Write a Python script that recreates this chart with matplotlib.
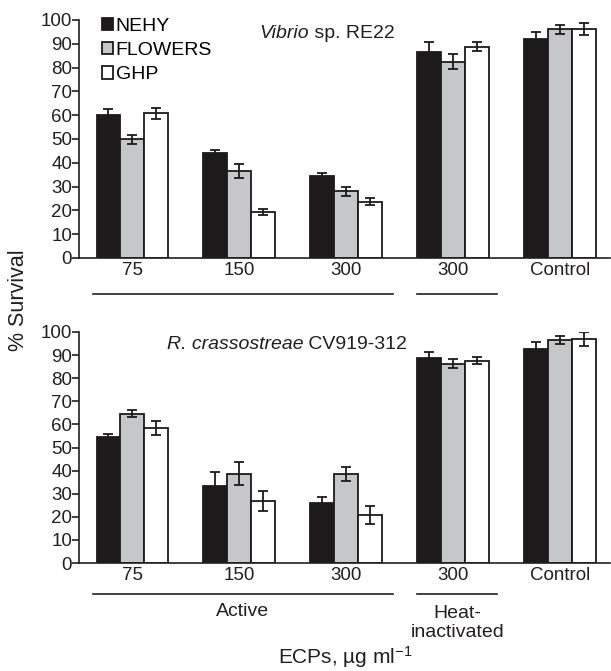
import numpy as np
import matplotlib.pyplot as plt
import matplotlib.transforms as mtransforms

plt.rcParams['font.family'] = ['Liberation Sans', 'DejaVu Sans']
plt.rcParams['mathtext.fontset'] = 'custom'
plt.rcParams['mathtext.rm'] = 'Liberation Sans'
plt.rcParams['mathtext.it'] = 'Liberation Sans:italic'

groups = ['75', '150', '300', '300', 'Control']
series = ['NEHY', 'FLOWERS', 'GHP']
colors = ['#1c1a1b', '#c6c7c9', '#ffffff']

# Vibrio sp. RE22
vib_mean = {'NEHY': [60, 44, 34.3, 86.7, 92.1],
            'FLOWERS': [49.8, 36.7, 28, 82.5, 96.1],
            'GHP': [60.8, 19.3, 23.7, 88.8, 96.4]}
vib_err = {'NEHY': [2.8, 1.2, 1.3, 4, 3],
           'FLOWERS': [1.9, 3, 2, 3.2, 1.8],
           'GHP': [2.3, 1.2, 1.5, 2, 2.5]}

# R. crassostreae CV919-312
rc_mean = {'NEHY': [54.7, 33.5, 25.8, 88.9, 92.8],
           'FLOWERS': [64.6, 38.7, 38.7, 86.3, 96.5],
           'GHP': [58.4, 26.8, 20.8, 87.6, 97]}
rc_err = {'NEHY': [1.3, 6, 2.8, 2.4, 3],
          'FLOWERS': [1.5, 5, 3, 2, 1.9],
          'GHP': [3, 4.5, 4, 1.6, 2.9]}

W, H = 611, 671
FS = 13.5
fig = plt.figure(figsize=(W / 100, H / 100), dpi=100)

def draw(ax, mean, err, title_it, title_rest, tx):
    x = np.arange(len(groups))
    bw = 0.224
    for i, s in enumerate(series):
        ax.bar(x + (i - 1) * bw, mean[s], bw, color=colors[i], edgecolor='#1c1a1b',
               linewidth=1.3, label=s, zorder=2)
        ax.errorbar(x + (i - 1) * bw, mean[s], yerr=err[s], fmt='none', ecolor='#1c1a1b',
                    elinewidth=1.3, capsize=3.5, capthick=1.3, zorder=3)
    ax.set_xlim(-0.5, 4.47)
    ax.set_ylim(0, 100)
    ax.set_yticks(np.arange(0, 101, 10))
    ax.set_xticks(x)
    ax.set_xticklabels(groups)
    ax.tick_params(axis='x', length=0, pad=3, labelsize=FS, colors='#231f20')
    ax.tick_params(axis='y', length=5, width=1.2, direction='out', labelsize=FS, pad=0,
                   colors='#231f20')
    for sp in ['top', 'right']:
        ax.spines[sp].set_visible(False)
    for sp in ['left', 'bottom']:
        ax.spines[sp].set_linewidth(1.2)
        ax.spines[sp].set_color('#231f20')
    t = ax.text(tx, 92.5, title_it, fontsize=14, fontstyle='italic', ha='left',
                va='baseline', color='#231f20')
    ax.annotate(title_rest, xy=(1, 0), xycoords=t, ha='left', va='bottom', fontsize=14,
                color='#231f20')

ax1 = fig.add_axes([79 / W, 1 - 258 / H, 531 / W, 238 / H])
draw(ax1, vib_mean, vib_err, 'Vibrio', ' sp. RE22', 1.19)
ax1.legend(loc='upper left', bbox_to_anchor=(0.043, 1.01), frameon=False, fontsize=14,
           handlelength=0.6, handleheight=0.6, handletextpad=0.12, labelspacing=0.38,
           borderaxespad=0, borderpad=0)

ax2 = fig.add_axes([79 / W, 1 - 563 / H, 531 / W, 231 / H])
draw(ax2, rc_mean, rc_err, 'R. crassostreae', ' CV919-312', 0.32)

for ax, yl in [(ax1, -0.151), (ax2, -0.134)]:
    tr = mtransforms.blended_transform_factory(ax.transData, ax.transAxes)
    ax.plot([-0.37, 2.44], [yl, yl], color='#231f20', lw=1.2, transform=tr, clip_on=False)
    ax.plot([2.66, 3.41], [yl, yl], color='#231f20', lw=1.2, transform=tr, clip_on=False)

tr2 = mtransforms.blended_transform_factory(ax2.transData, ax2.transAxes)
ax2.text(1.03, -0.21, 'Active', transform=tr2, ha='center', va='center', fontsize=14,
         color='#231f20')
ax2.text(3.04, -0.26, 'Heat-\ninactivated', transform=tr2, ha='center', va='center',
         fontsize=14, color='#231f20', linespacing=1.2)
fig.text(345 / W, 1 - 657 / H, 'ECPs, µg ml$^{-1}$', ha='center', va='center', fontsize=15,
         color='#231f20')
fig.text(19 / W, 1 - 300 / H, '% Survival', rotation=90, ha='center', va='center',
         fontsize=15.5, color='#231f20')

fig.savefig('out.png', dpi=100)
